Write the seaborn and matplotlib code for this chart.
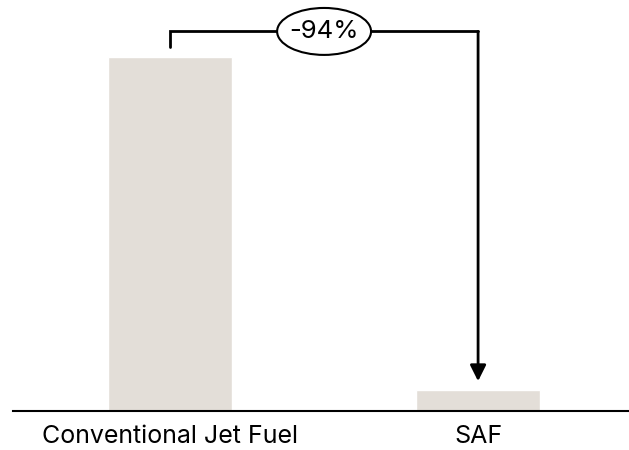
import matplotlib
matplotlib.use("Agg")
import matplotlib.pyplot as plt
from matplotlib.patches import Ellipse
import seaborn as sns
import pandas as pd

# Lifecycle emissions (gCO2e/MJ)
categories = ["Conventional Jet Fuel", "SAF"]
emissions = [89.0, 5.3]

sns.set_theme(style="white")
plt.rcParams["font.family"] = ["Inter", "DejaVu Sans"]

df = pd.DataFrame({"fuel": categories, "emissions": emissions})

fig = plt.figure(figsize=(6.29, 4.5), dpi=100)
ax = fig.add_axes([13 / 629, 39 / 450, 616 / 629, 411 / 450])

sns.barplot(data=df, x="fuel", y="emissions", color="#E3DED8", saturation=1,
            width=0.4, ax=ax)

ax.set_xlim(-0.51, 1.49)
ax.set_ylim(0, 103.3)

for side in ["top", "right", "left"]:
    ax.spines[side].set_visible(False)
ax.spines["bottom"].set_color("black")
ax.spines["bottom"].set_linewidth(1.5)
ax.set_xlabel("")
ax.set_ylabel("")
ax.set_yticks([])
ax.tick_params(axis="x", length=0, pad=10, labelsize=18, colors="black")

# Reduction bracket from the conventional bar to the SAF bar
conv, saf = emissions
top = 95.4
ax.plot([0, 0, 1], [conv + 2.5, top, top], color="black", lw=2,
        solid_joinstyle="miter", clip_on=False)
ax.annotate("", xy=(1, saf + 2.2), xytext=(1, top),
            arrowprops=dict(arrowstyle="-|>", color="black", lw=2,
                            mutation_scale=24, shrinkA=0, shrinkB=0))
reduction = round((1 - saf / conv) * 100)
ax.add_patch(Ellipse((0.5, top), width=0.305, height=11.8, facecolor="white",
                     edgecolor="black", lw=1.5, zorder=4, clip_on=False))
ax.text(0.5, top, f"-{reduction}%", ha="center", va="center", fontsize=18.5,
        color="black", zorder=5)

fig.savefig("out.png", dpi=100)
